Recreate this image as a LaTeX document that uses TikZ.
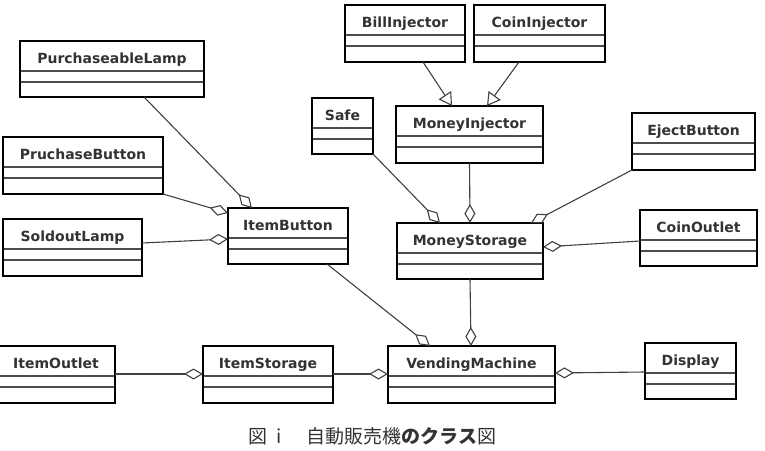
\documentclass[tikz,border=0pt]{standalone}
\usepackage{fontspec}
\setmainfont{DejaVu Sans}
\newfontfamily\cjk{Noto Sans CJK JP}
\usetikzlibrary{arrows.meta,calc}
\newcommand\umlcls[6]{%
  \node[cls, minimum width=#5pt, minimum height=#6pt] (#1) at (#3,#4) {};
  \node[clstext] (#1-label) at ($(#1.north)+(0,22)$) {#2};
  \draw[sep] ($(#1.north west)+(1,30)$) -- ($(#1.north east)+(-1,30)$);
  \draw[sep] ($(#1.north west)+(1,41)$) -- ($(#1.north east)+(-1,41)$);
}
\begin{document}
\begin{tikzpicture}[x=1pt,y=-1pt,
  cls/.style={draw=black, line width=2.2pt, fill=white, inner sep=0pt, outer sep=0pt, anchor=north west},
  clstext/.style={font=\fontsize{14}{16}\selectfont\bfseries, text=black!80, anchor=base, inner sep=0pt},
  sep/.style={draw=black!70, line width=1.2pt},
  conn/.style={draw=black!75, line width=1.1pt},
  agg/.style={conn, -{Diamond[open, length=19pt, width=11pt, line width=1.1pt]}},
  gen/.style={conn, -{Triangle[open, length=13pt, width=15pt, line width=1.1pt]}},
]
\useasboundingbox (0,0) rectangle (765,450);

\umlcls{PL}{PurchaseableLamp}{20}{41}{184}{56}
\umlcls{BI}{BillInjector}{345}{5}{120}{57}
\umlcls{CI}{CoinInjector}{474}{5}{131}{57}
\umlcls{Safe}{Safe}{312}{98}{61}{56}
\umlcls{MI}{MoneyInjector}{396}{106}{147}{57}
\umlcls{EB}{EjectButton}{632}{113}{123}{57}
\umlcls{PB}{PruchaseButton}{3}{137}{160}{57}
\umlcls{SL}{SoldoutLamp}{3}{219}{139}{57}
\umlcls{IB}{ItemButton}{228}{208}{120}{56}
\umlcls{MS}{MoneyStorage}{397}{223}{146}{56}
\umlcls{CO}{CoinOutlet}{640}{210}{117}{56}
\umlcls{IO}{ItemOutlet}{-3}{346}{118}{57}
\umlcls{IS}{ItemStorage}{203}{346}{130}{57}
\umlcls{VM}{VendingMachine}{388}{346}{167}{57}
\umlcls{D}{Display}{645}{343}{91}{56}

% generalizations
\draw[gen] ($(BI.south west)+(78,0)$) -- ($(MI.north west)+(56,0)$);
\draw[gen] ($(CI.south west)+(45,0)$) -- ($(MI.north west)+(91,0)$);

% aggregations
\draw[agg] ($(PL.south west)+(124,0)$) -- ($(IB.north west)+(24,0)$);
\draw[agg] (PB.south east) -- ($(IB.north west)+(0,5)$);
\draw[agg] ($(SL.north east)+(0,24)$) -- ($(IB.north west)+(0,31)$);
\draw[agg] (Safe.south east) -- ($(MS.north west)+(43,0)$);
\draw[agg] (MI.south) -- (MS.north);
\draw[agg] (EB.south west) -- ($(MS.north east)+(-12,0)$);
\draw[agg] ($(CO.north west)+(0,31)$) -- ($(MS.north east)+(0,24)$);
\draw[agg] ($(IB.south west)+(99,0)$) -- ($(VM.north west)+(42,0)$);
\draw[agg] (MS.south) -- ($(VM.north west)+(83,0)$);
\draw[agg] ($(IS.north east)+(0,28)$) -- ($(VM.north west)+(0,28)$);
\draw[agg] ($(IO.north east)+(0,28)$) -- ($(IS.north west)+(0,28)$);
\draw[agg] ($(D.north west)+(0,29)$) -- ($(VM.north east)+(0,27)$);

\node[anchor=north west, inner sep=0pt, text=black!80, font=\cjk\fontsize{19}{21}\selectfont] (cap) at (248,427) {図\hspace{9pt}i\hspace{25pt}自動販売機\textbf{のクラス}図};
\end{tikzpicture}
\end{document}
